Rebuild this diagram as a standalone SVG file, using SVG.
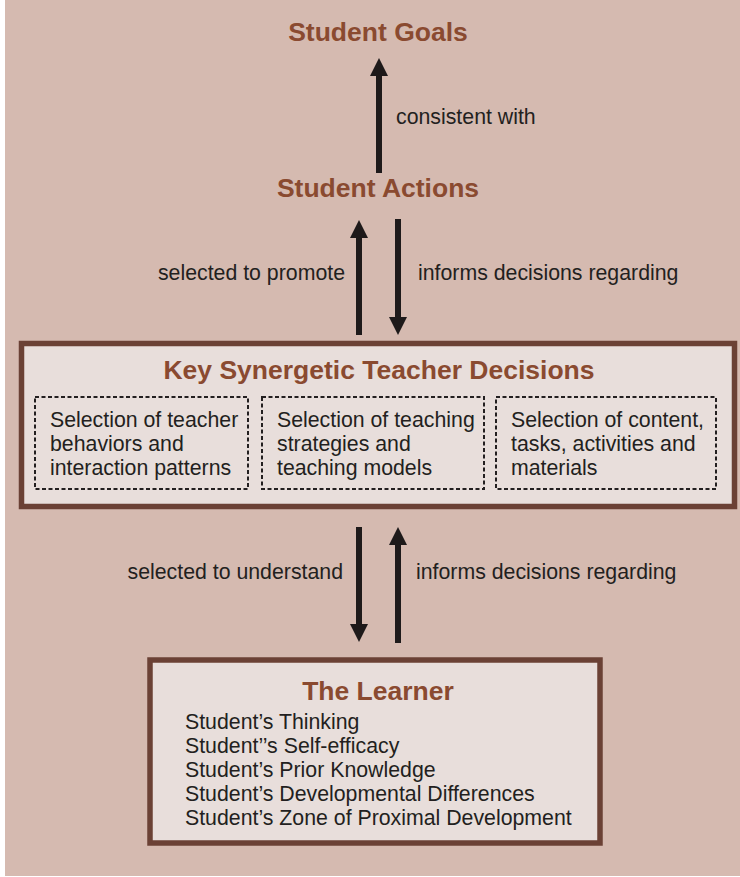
<svg xmlns="http://www.w3.org/2000/svg" width="740" height="877" viewBox="0 0 740 877">
<style>
.title{font-family:"Liberation Sans",Arial,sans-serif;font-weight:bold;font-size:26.5px;fill:#8a4a30;text-anchor:middle}
.lbl{font-family:"Liberation Sans",Arial,sans-serif;font-size:21.3px;fill:#231f20}
.box{fill:#e8dedb;stroke:#6b4135;stroke-width:5.5}
.dash{fill:none;stroke:#231f20;stroke-width:2;stroke-dasharray:4,2.5}
.shaft{stroke:#1e1a1a;stroke-width:6;fill:none}
</style>
<defs>
<marker id="ah" viewBox="0 0 19 18" refX="0" refY="9" markerWidth="19" markerHeight="18" markerUnits="userSpaceOnUse" orient="auto">
<path d="M0,0 L18,9 L0,18 Z" fill="#1e1a1a"/>
</marker>
</defs>
<rect x="0" y="0" width="740" height="877" fill="#ffffff"/>
<rect x="5" y="0" width="735" height="876" fill="#d5bab0"/>

<g id="student-goals"><text class="title" x="378" y="41">Student Goals</text></g>
<g id="student-actions"><text class="title" x="378" y="197">Student Actions</text></g>

<g id="teacher-decisions">
<rect class="box" x="21.5" y="343.5" width="713" height="163"/>
<text class="title" x="379" y="379">Key Synergetic Teacher Decisions</text>
<g id="td-behaviors">
<rect class="dash" x="35" y="397" width="213" height="92"/>
<text class="lbl" x="50" y="427">Selection of teacher</text>
<text class="lbl" x="50" y="451">behaviors and</text>
<text class="lbl" x="50" y="475">interaction patterns</text>
</g>
<g id="td-strategies">
<rect class="dash" x="262" y="397" width="222" height="92"/>
<text class="lbl" x="277" y="427">Selection of teaching</text>
<text class="lbl" x="277" y="451">strategies and</text>
<text class="lbl" x="277" y="475">teaching models</text>
</g>
<g id="td-content">
<rect class="dash" x="496" y="397" width="220" height="92"/>
<text class="lbl" x="511" y="427">Selection of content,</text>
<text class="lbl" x="511" y="451">tasks, activities and</text>
<text class="lbl" x="511" y="475">materials</text>
</g>
</g>

<g id="learner">
<rect class="box" x="150" y="660" width="450" height="183"/>
<text class="title" x="378" y="700">The Learner</text>
<text class="lbl" x="185" y="729">Student’s Thinking</text>
<text class="lbl" x="185" y="753">Student’’s Self-efficacy</text>
<text class="lbl" x="185" y="777">Student’s Prior Knowledge</text>
<text class="lbl" x="185" y="801">Student’s Developmental Differences</text>
<text class="lbl" x="185" y="825">Student’s Zone of Proximal Development</text>
</g>

<g id="connectors">
<line class="shaft" x1="379" y1="173" x2="379" y2="76" marker-end="url(#ah)"/>
<text class="lbl" x="396" y="124">consistent with</text>
<line class="shaft" x1="359" y1="335" x2="359" y2="238" marker-end="url(#ah)"/>
<line class="shaft" x1="398" y1="219" x2="398" y2="317" marker-end="url(#ah)"/>
<text class="lbl" x="345" y="280" text-anchor="end">selected to promote</text>
<text class="lbl" x="418" y="280">informs decisions regarding</text>
<line class="shaft" x1="359" y1="527" x2="359" y2="624" marker-end="url(#ah)"/>
<line class="shaft" x1="398" y1="643" x2="398" y2="545" marker-end="url(#ah)"/>
<text class="lbl" x="343" y="579" text-anchor="end">selected to understand</text>
<text class="lbl" x="416" y="579">informs decisions regarding</text>
</g>
</svg>
